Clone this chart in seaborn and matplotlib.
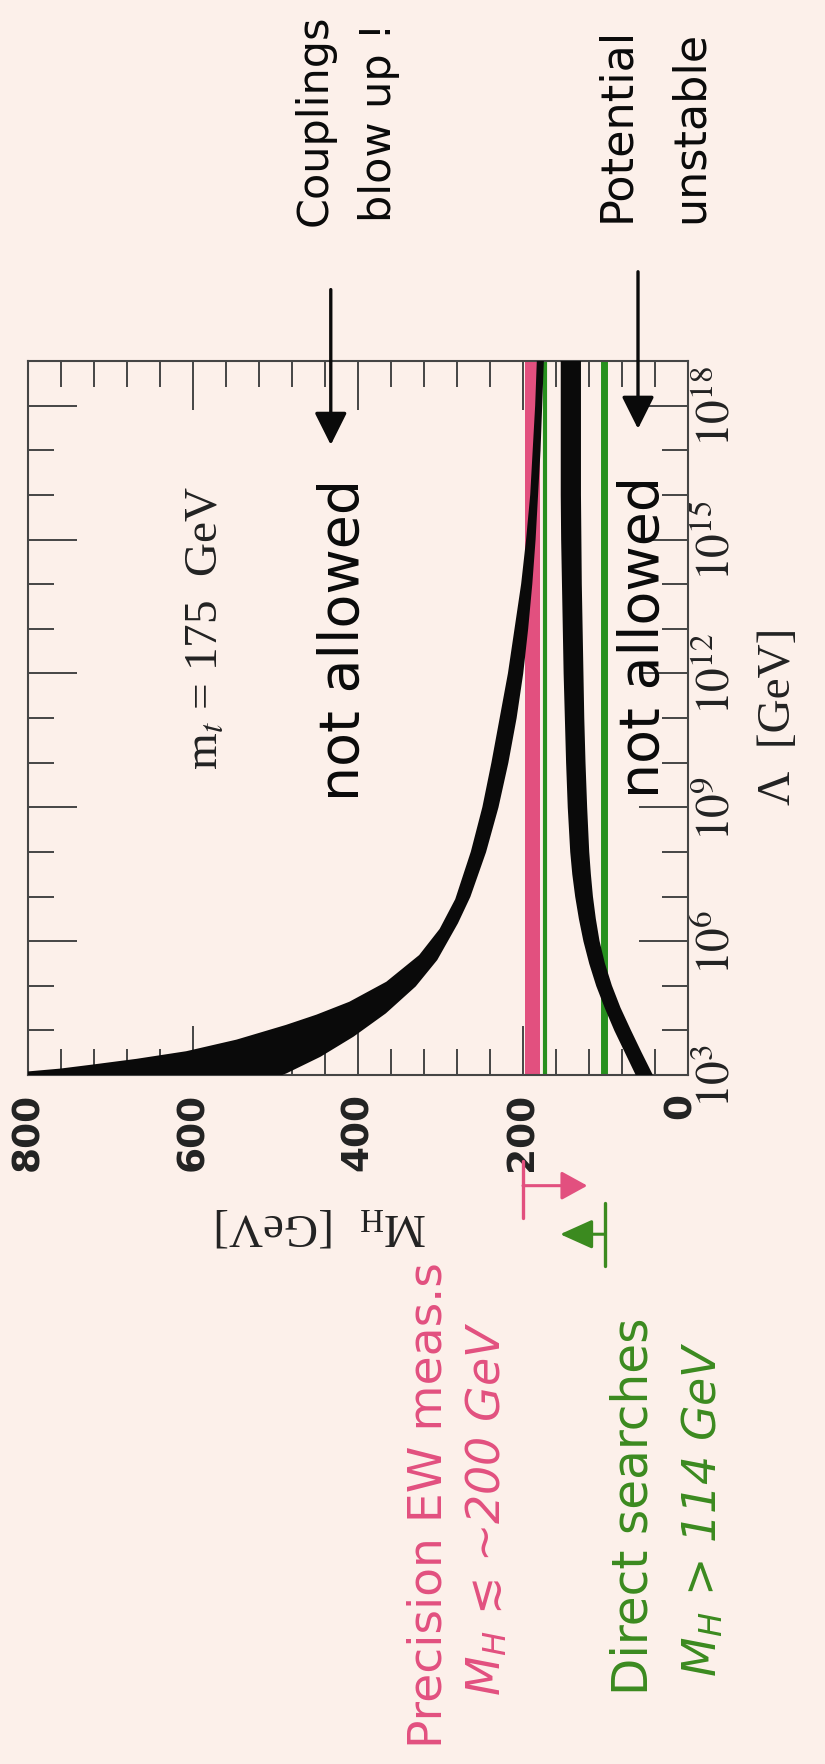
import numpy as np
import matplotlib
matplotlib.use("Agg")
import matplotlib.pyplot as plt
from matplotlib.ticker import NullFormatter
from matplotlib.transforms import ScaledTranslation
import seaborn as sns

# ---------------- data ----------------
# triviality ("couplings blow up") band: upper edge and lower edge, M_H in GeV
triv_hi_exp = [3.0, 3.06, 3.12, 3.21, 3.34, 3.51, 3.77, 4.10, 4.33, 4.62,
               5.07, 5.67, 6.26, 6.93, 8.0, 9.0, 10.0, 11.0, 12.0, 13.0,
               14.0, 15.0, 16.0, 17.0, 18.0, 19.0]
triv_hi = [835, 798, 761, 722, 668, 608, 547, 487, 450, 410,
           365, 325, 300, 281, 262, 248, 237, 227, 217, 209,
           201, 195, 190, 187, 184, 182]
triv_lo_exp = [3.0, 3.06, 3.43, 3.88, 4.40, 5.0, 5.59, 6.41, 7.0, 8.0,
               9.0, 10.0, 11.0, 12.0, 13.0, 14.0, 15.0, 16.0, 17.0, 18.0, 19.0]
triv_lo = [495, 487, 446, 406, 367, 331, 305, 280, 265, 246,
           231, 219, 209, 201, 195, 190, 186, 183, 180, 178, 176]
# vacuum stability ("potential unstable") band
vac_exp = [3.0, 3.5, 4.0, 4.5, 5.0, 5.5, 6.0, 6.5, 7.0, 7.5, 8.0, 9.0,
           10.0, 11.0, 12.0, 13.0, 14.0, 15.0, 16.0, 17.0, 18.0, 19.0]
vac_hi = [62, 75, 88, 99.5, 110, 118.5, 125.5, 131, 135.5, 139, 141.5, 144.5,
          146.5, 148, 149.5, 150.5, 151.5, 152.5, 153, 153, 153, 153]
vac_lo = [44, 57.5, 70.5, 83, 93.5, 102, 108.5, 113, 116.5, 119, 121, 123.5,
          125.5, 127, 128, 129, 130, 130.5, 131, 131, 131, 131]

pink_band = [180, 197.5]          # precision EW band
green_lines = [173.5, 102]        # green reference lines
mh_major = [0, 200, 400, 600, 800]
lam_major_exp = [3, 6, 9, 12, 15, 18]
lam_minor_exp = list(range(3, 20))

BG = "#FCF0EA"
PINK = "#E2507F"
GREEN = "#27901E"
DGREEN = "#3B8A1F"
BLACK = "#0A0A0A"
AXC = "#454545"

sns.set_theme(style="ticks")
plt.rcParams["font.family"] = ["DejaVu Sans"]
plt.rcParams["mathtext.fontset"] = "stix"
plt.rcParams["axes.facecolor"] = BG
plt.rcParams["figure.facecolor"] = BG

W, H = 825, 1765
fig = plt.figure(figsize=(W / 100, H / 100), dpi=100, facecolor=BG)
ax = fig.add_axes([28 / W, 1 - 1076 / H, 660 / W, 714 / H])
ax.set_facecolor(BG)
ax.set_yscale("log")

ax.axvspan(pink_band[0], pink_band[1], color=PINK, lw=0, zorder=1)
ax.axvline(green_lines[0], color=GREEN, lw=3.0, zorder=2)
ax.axvline(green_lines[1], color=GREEN, lw=5.0, zorder=2)

lam_hi = 10.0 ** np.array(triv_hi_exp)
lam_lo = 10.0 ** np.array(triv_lo_exp)
lam_v = 10.0 ** np.array(vac_exp)

ax.fill(np.r_[triv_hi, triv_lo[::-1]], np.r_[lam_hi, lam_lo[::-1]],
        color=BLACK, lw=0, zorder=3)
ax.fill(np.r_[vac_hi, vac_lo[::-1]], np.r_[lam_v, lam_v[::-1]],
        color=BLACK, lw=0, zorder=3)
for xs, ys in ((triv_hi, lam_hi), (triv_lo, lam_lo), (vac_hi, lam_v),
               (vac_lo, lam_v)):
    sns.lineplot(x=xs, y=ys, orient="y", estimator=None, color=BLACK,
                 lw=1.5, ax=ax, zorder=3)

ax.set_xlim(800, 0)
ax.set_ylim(1e3, 1e19)

ax.set_xticks(mh_major)
ax.set_xticks(np.arange(0, 801, 40), minor=True)
ax.set_xticklabels([str(v) for v in mh_major])
ax.set_yticks(10.0 ** np.array(lam_major_exp))
ax.set_yticklabels([f"$10^{{{e}}}$" for e in lam_major_exp])
ax.set_yticks(10.0 ** np.array(lam_minor_exp), minor=True)
ax.yaxis.set_minor_formatter(NullFormatter())

ax.tick_params(which="both", direction="in", top=True, bottom=True,
               left=True, right=True, labelleft=False, labelright=True,
               color=AXC, width=1.4)
ax.tick_params(which="major", length=35)
ax.tick_params(which="minor", length=19)
ax.tick_params(axis="x", labelrotation=90, labelsize=27, pad=12)
ax.tick_params(axis="y", labelrotation=90, labelsize=34, pad=5)
for lbl in ax.get_xticklabels():
    lbl.set_fontweight("bold")
    lbl.set_color("#222222")
for lbl in ax.get_yticklabels():
    lbl.set_va("center")
    lbl.set_color("#222222")
# nudge the "0" label slightly left so it sits beside the 10^3 label
zero_lbl = ax.xaxis.get_major_ticks()[0].label1
zero_lbl.set_transform(zero_lbl.get_transform()
                       + ScaledTranslation(-5 / 72, 0, fig.dpi_scale_trans))

for s in ax.spines.values():
    s.set_color(AXC)
    s.set_linewidth(1.5)

ax.set_xlabel(r"M$_\mathregular{H}$  [GeV]", rotation=180, fontsize=34,
              family="Liberation Serif", va="center", ha="center",
              color="#222222")
ax.xaxis.set_label_coords((321 - 28) / 660, (1076 - 1225) / 714)
ax.yaxis.set_label_position("right")
ax.set_ylabel("Λ  [GeV]", rotation=90, fontsize=34, family="Liberation Serif",
              va="center", ha="center", color="#222222")
ax.yaxis.set_label_coords((779 - 28) / 660, (1076 - 716) / 714)

# arrows pointing into the forbidden regions
for mh, y0, y1 in [(433, 20.6, 17.12), (60.6, 21.0, 17.48)]:
    ax.annotate("", xy=(mh, 10 ** y1), xytext=(mh, 10 ** y0),
                arrowprops=dict(arrowstyle="-|>,head_length=1.0,head_width=0.5",
                                color=BLACK, lw=2.4, mutation_scale=20,
                                shrinkA=0, shrinkB=0),
                annotation_clip=False, zorder=6)

# limit markers under the axis
trans = ax.get_xaxis_transform()
ax.plot([200, 200], [-0.120, -0.200], transform=trans, color=PINK, lw=2.4,
        clip_on=False)
ax.annotate("", xy=(122, -0.155), xytext=(200, -0.155), xycoords=trans,
            textcoords=trans,
            arrowprops=dict(arrowstyle="-|>,head_length=1.0,head_width=0.55",
                            color=PINK, lw=2.2, mutation_scale=16,
                            shrinkA=0, shrinkB=0), annotation_clip=False)
ax.plot([100.6, 100.6], [-0.179, -0.268], transform=trans, color=DGREEN,
        lw=2.4, clip_on=False)
ax.annotate("", xy=(155, -0.223), xytext=(100.6, -0.223), xycoords=trans,
            textcoords=trans,
            arrowprops=dict(arrowstyle="-|>,head_length=1.0,head_width=0.45",
                            color=DGREEN, lw=2.2, mutation_scale=20,
                            shrinkA=0, shrinkB=0), annotation_clip=False)


def ftext(px, py, s, **kw):
    fig.text(px / W, 1 - py / H, s, rotation=90, ha="center", va="center", **kw)


ftext(205, 628, r"m$_t$ = 175  GeV", fontsize=34, family="Liberation Serif",
      color="#222222")
ftext(344, 640, "not allowed", fontsize=40, color=BLACK)
ftext(644, 637, "not allowed", fontsize=40, color=BLACK)
ftext(315, 120, "Couplings", fontsize=31, color=BLACK)
ftext(379, 122, "blow up !", fontsize=31, color=BLACK)
ftext(617, 124, "Potential", fontsize=32, color=BLACK)
ftext(690, 127, "unstable", fontsize=32, color=BLACK)
ftext(429, 1505, "Precision EW meas.s", fontsize=34, color=PINK)
ftext(487, 1509, r"M$_\mathregular{H}$ ≲ ~200 GeV", fontsize=33, color=PINK,
      style="italic", family=["DejaVu Sans", "DejaVu Serif"])
ftext(634, 1506, "Direct searches", fontsize=35, color=DGREEN)
ftext(703, 1509, r"M$_\mathregular{H}$ > 114 GeV", fontsize=33, color=DGREEN,
      style="italic")

fig.savefig("out.png", dpi=100, facecolor=BG)
